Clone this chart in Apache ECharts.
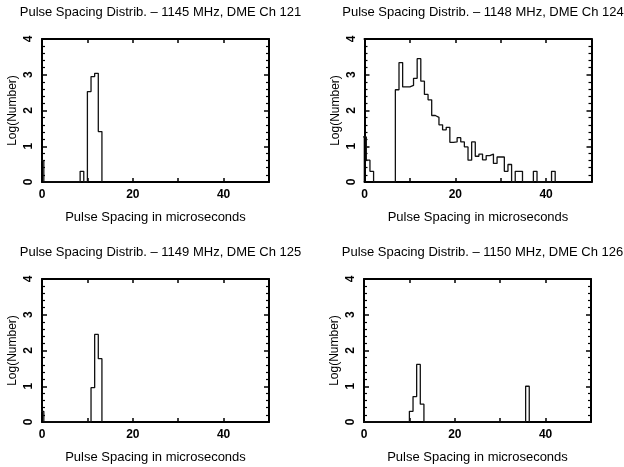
<!DOCTYPE html>
<html>
<head>
<meta charset="utf-8">
<script src="https://cdn.jsdelivr.net/npm/echarts@6/dist/echarts.min.js"></script>
<style>
  html, body { margin: 0; padding: 0; background: #fff; }
  #graph { width: 624px; height: 467px; }
</style>
</head>
<body>
<div id="graph"></div>
<script>
const chartDom = document.getElementById('graph')
const myChart = echarts.init(chartDom)

// histogram bins: first bin starts at -0.4 us, each bin 0.8 us wide
const binStart = -0.4;
const binWidth = 0.8;

const xLabels = [0, 20, 40];
const yLabels = [0, 1, 2, 3, 4];

const titles = [
    'Pulse Spacing Distrib. \u2013 1145 MHz, DME Ch 121',
    'Pulse Spacing Distrib. \u2013 1148 MHz, DME Ch 124',
    'Pulse Spacing Distrib. \u2013 1149 MHz, DME Ch 125',
    'Pulse Spacing Distrib. \u2013 1150 MHz, DME Ch 126'
];

// log10(number) per bin
const ch121 = [0.6, 0, 0, 0, 0, 0, 0, 0, 0, 0, 0, 0.30, 0, 2.53, 2.95, 3.04, 1.41];
const ch124 = [1.26, 0.61, 0.30, 0, 0, 0, 0, 0, 0, 2.58, 3.34, 2.66, 2.66, 2.70, 2.90,
    3.45, 2.82, 2.45, 2.30, 1.86, 1.81, 1.60, 1.46, 1.53, 1.11, 1.12, 1.24, 1.12, 0.98,
    0.61, 1.12, 0.72, 0.78, 0.62, 0.74, 0.78, 0.52, 0.70, 0.70, 0.30, 0.49, 0, 0.30,
    0.30, 0, 0, 0, 0.30, 0, 0, 0, 0, 0.30];
const ch125 = [0.30, 0, 0, 0, 0, 0, 0, 0, 0, 0, 0, 0, 0, 0, 0.96, 2.45, 1.77];
const ch126 = [0, 0, 0, 0, 0, 0, 0, 0, 0, 0, 0, 0, 0, 0.30, 0.71, 1.61, 0.50,
    0, 0, 0, 0, 0, 0, 0, 0, 0, 0, 0, 0, 0, 0, 0, 0, 0, 0, 0, 0, 0, 0, 0, 0, 0, 0, 0, 0, 1.0];

const seriesValues = [ch121, ch124, ch125, ch126];

const grids = [
    { left: 42, top: 39 },
    { left: 364.5, top: 39 },
    { left: 42, top: 279 },
    { left: 364, top: 279 }
];
const plotW = 227;
const plotH = 143;

function stepPoints(values) {
    const pts = [[binStart, 0]];
    values.forEach(function (v, i) {
        pts.push([binStart + i * binWidth, v]);
    });
    pts.push([binStart + values.length * binWidth, 0]);
    return pts;
}

const font = 'Liberation Sans';
const frame = { show: true, onZero: false, lineStyle: { color: '#000', width: 2 } };

const option = {
    animation: false,
    backgroundColor: '#fff',
    title: [],
    grid: [],
    xAxis: [],
    yAxis: [],
    series: []
};

grids.forEach(function (g, p) {
    option.title.push({
        text: titles[p],
        left: g.left + plotW / 2,
        top: g.top - 38,
        textAlign: 'center',
        textStyle: { fontFamily: font, fontSize: 13, fontWeight: 'normal', color: '#000' }
    });
    option.grid.push({ left: g.left, top: g.top, width: plotW, height: plotH });

    // bottom axis with labels
    option.xAxis.push({
        type: 'value', gridIndex: p, position: 'bottom', min: 0, max: 50, interval: 10,
        name: 'Pulse Spacing in microseconds', nameLocation: 'middle', nameGap: 29,
        nameTextStyle: { fontFamily: font, fontSize: 13, color: '#000' },
        axisLine: frame,
        axisTick: { inside: true, length: 4, lineStyle: { color: '#000', width: 1.5 } },
        axisLabel: {
            margin: 7, fontFamily: font, fontSize: 12, fontWeight: 'bold', color: '#000',
            formatter: function (v) { return xLabels.indexOf(v) >= 0 ? String(v) : ''; }
        },
        splitLine: { show: false }
    });
    // top axis, ticks only
    option.xAxis.push({
        type: 'value', gridIndex: p, position: 'top', min: 0, max: 50, interval: 10,
        axisLine: frame,
        axisTick: { inside: true, length: 4, lineStyle: { color: '#000', width: 1.5 } },
        axisLabel: { show: false },
        splitLine: { show: false }
    });
    option.yAxis.push({
        type: 'value', gridIndex: p, position: 'left', min: 0, max: 4, interval: 1,
        name: 'Log(Number)', nameLocation: 'middle', nameGap: 23,
        nameTextStyle: { fontFamily: font, fontSize: 12, color: '#000' },
        axisLine: frame,
        axisTick: { inside: true, length: 5, lineStyle: { color: '#000', width: 1.5 } },
        minorTick: { show: true, splitNumber: 5, length: 3, lineStyle: { color: '#000', width: 1.2 } },
        axisLabel: {
            margin: 7, rotate: 90, fontFamily: font, fontSize: 12, fontWeight: 'bold', color: '#000',
            formatter: function (v) { return yLabels.indexOf(v) >= 0 ? String(v) : ''; }
        },
        splitLine: { show: false }
    });
    option.yAxis.push({
        type: 'value', gridIndex: p, position: 'right', min: 0, max: 4, interval: 1,
        axisLine: frame,
        axisTick: { inside: true, length: 5, lineStyle: { color: '#000', width: 1.5 } },
        minorTick: { show: true, splitNumber: 5, length: 3, lineStyle: { color: '#000', width: 1.2 } },
        axisLabel: { show: false },
        splitLine: { show: false }
    });
    option.series.push({
        type: 'line',
        xAxisIndex: 2 * p,
        yAxisIndex: 2 * p,
        step: 'end',
        showSymbol: false,
        clip: true,
        lineStyle: { color: '#111', width: 1.3 },
        data: stepPoints(seriesValues[p])
    });
});

option && myChart.setOption(option);
</script>
</body>
</html>
